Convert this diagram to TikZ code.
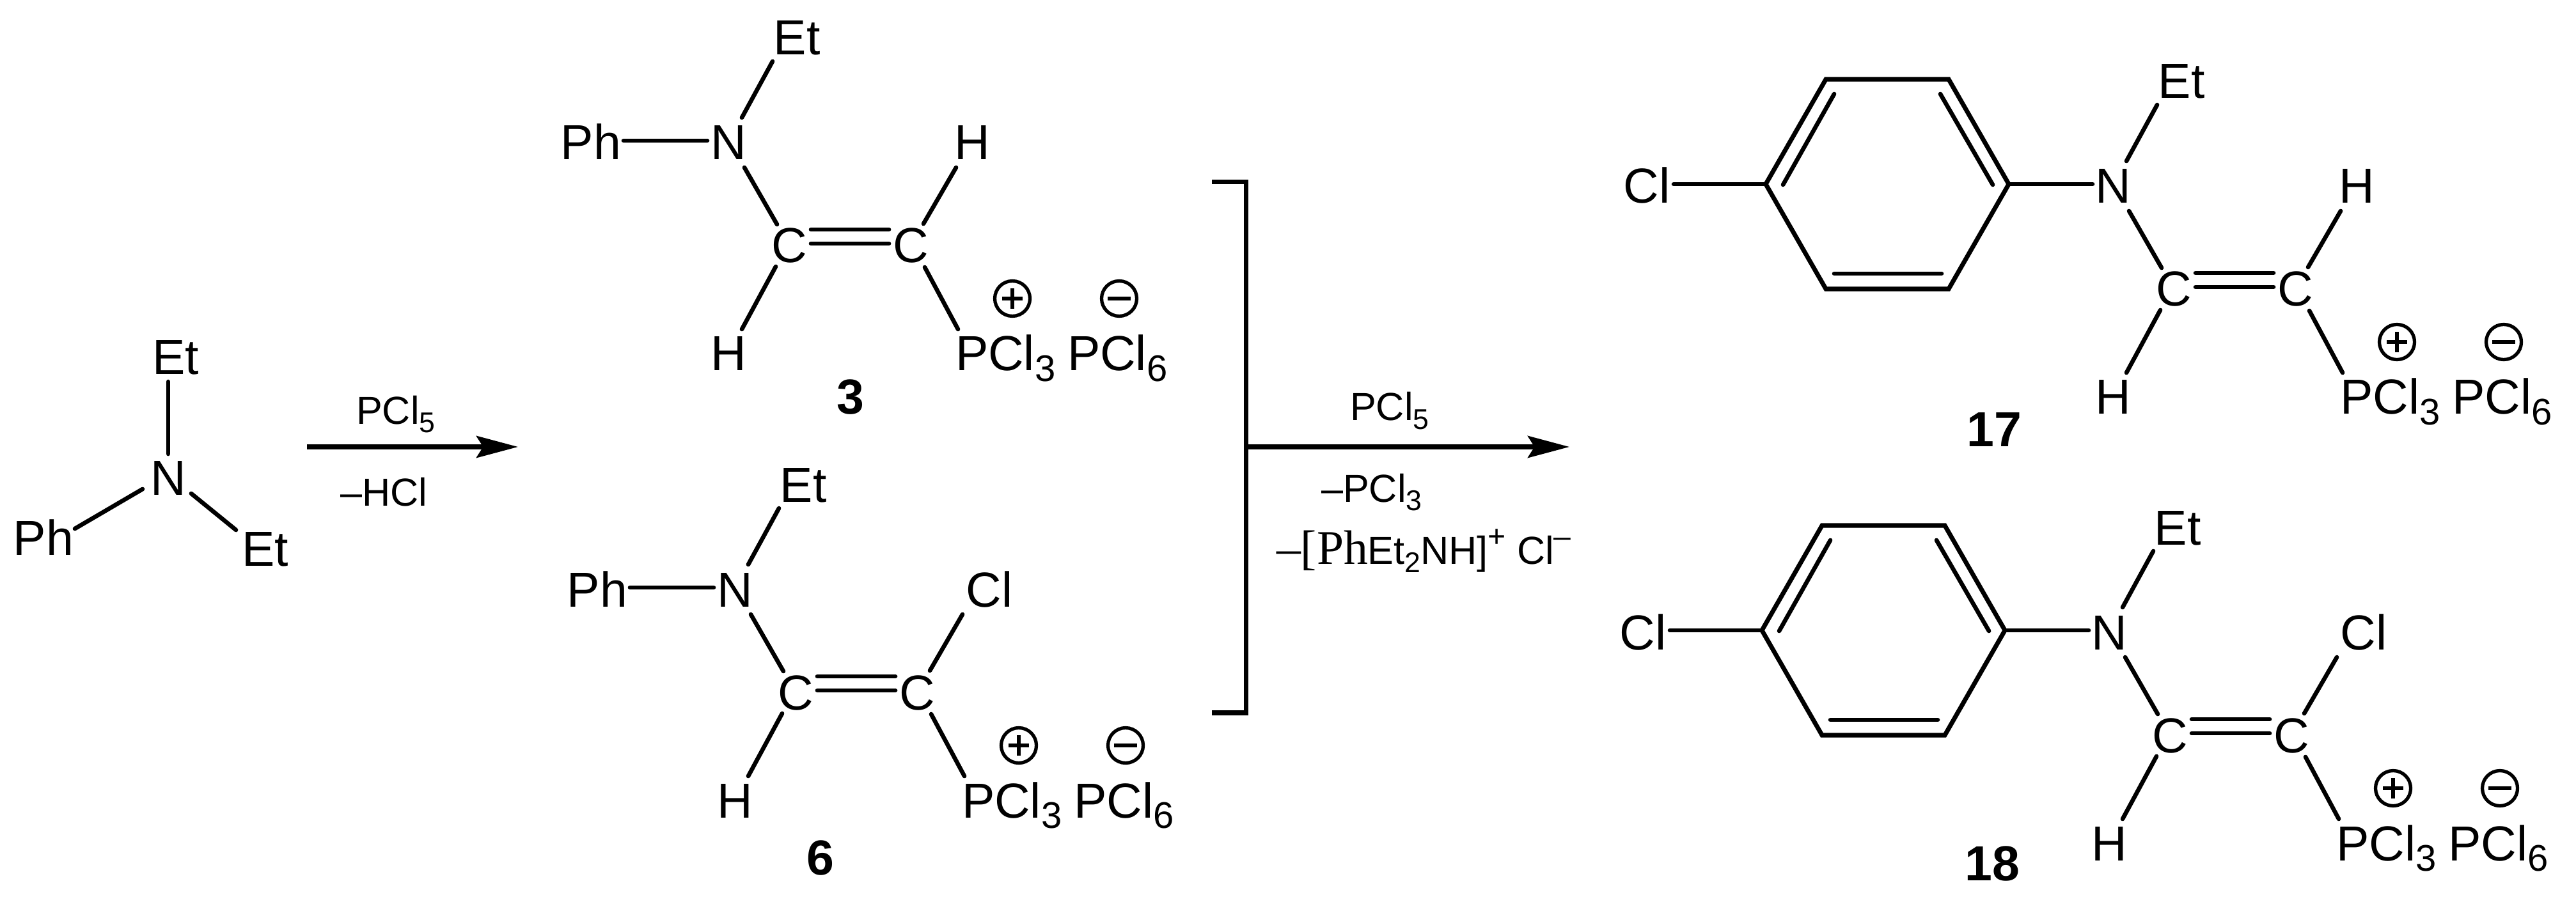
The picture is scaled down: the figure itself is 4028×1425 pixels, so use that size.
\documentclass[tikz,border=0pt]{standalone}
\usepackage{fontspec}
\setmainfont{Liberation Sans}
\newfontfamily\serifpart{Liberation Serif}
\usetikzlibrary{arrows.meta}
\newcommand\atomsub[1]{\raisebox{-4.8pt}{\fontsize{16.5}{18}\selectfont #1}}
\newcommand\reagsub[1]{\raisebox{-3.8pt}{\fontsize{12.7}{14}\selectfont #1}}
\newcommand\reagsup[1]{\raisebox{7.5pt}{\fontsize{13.7}{15}\selectfont #1}}
\tikzset{
  atom/.style={inner sep=0pt,outer sep=0pt,anchor=base,font=\fontsize{21.9}{26}\selectfont},
  ionlabel/.style={atom,anchor=base west},
  reagent/.style={inner sep=0pt,outer sep=0pt,anchor=base west,font=\fontsize{17.4}{21}\selectfont},
  compound/.style={inner sep=0pt,outer sep=0pt,anchor=base,font=\fontsize{21.9}{26}\selectfont\bfseries},
  bondline/.style={line width=1.9pt,line cap=round},
  ringline/.style={line width=2pt,line join=miter,line cap=butt},
  bracketline/.style={line width=2pt,line join=miter,line cap=butt},
  reactionarrow/.style={line width=2pt,line cap=butt,-{Stealth[length=18.5pt,width=9.7pt,inset=3pt]}},
  chargering/.style={circle,draw,line width=1.5pt,minimum size=0.55cm,inner sep=0pt,outer sep=0pt},
  pluscharge/.style={chargering,path picture={
    \draw[line width=1.7pt] ([xshift=-16*0.01cm]path picture bounding box.center) -- ([xshift=16*0.01cm]path picture bounding box.center);
    \draw[line width=1.7pt] ([yshift=-16*0.01cm]path picture bounding box.center) -- ([yshift=16*0.01cm]path picture bounding box.center);}},
  minuscharge/.style={chargering,path picture={
    \draw[line width=1.7pt] ([xshift=-18*0.01cm]path picture bounding box.center) -- ([xshift=18*0.01cm]path picture bounding box.center);}},
}
% #1 prefix, #2 dx, #3 dy, #4 x of substituent, #5 its text, #6 x offset of bond end from it
\newcommand\drawfrag[6]{%
  \begin{scope}[shift={(#2,#3)}]
    \node[atom] (#1Et) at (1246,86) {Et};
    \node[atom] (#1N) at (1139,250) {N};
    \node[atom] (#1Ca) at (1234,411) {C};
    \node[atom] (#1Cb) at (1424,411) {C};
    \node[atom] (#1X) at (#4,250) {#5};
    \node[atom] (#1H) at (1139,580) {H};
    \node[ionlabel] (#1P) at (1494,580) {PCl\atomsub{3}};
    \node[ionlabel] (#1Q) at (1669,580) {PCl\atomsub{6}};
    \node[pluscharge] (#1plus) at (1583,467) {};
    \node[minuscharge] (#1minus) at (1750,467) {};
  \end{scope}
  \draw[bondline] ([shift={(21,-66)}]#1N.base) -- ([shift={(-38,10)}]#1Et.base);
  \draw[bondline] ([shift={(25,12)}]#1N.base) -- ([shift={(-19,-60)}]#1Ca.base);
  \draw[bondline] ([shift={(34,-52)}]#1Ca.base) -- ([shift={(-34,-52)}]#1Cb.base);
  \draw[bondline] ([shift={(34,-30)}]#1Ca.base) -- ([shift={(-34,-30)}]#1Cb.base);
  \draw[bondline] ([shift={(20,-61)}]#1Cb.base) -- ([shift={(#6,12)}]#1X.base);
  \draw[bondline] ([shift={(-21,6)}]#1Ca.base) -- ([shift={(21,-65)}]#1H.base);
  \draw[bondline] ([shift={(22,7)}]#1Cb.base) -- ([shift={(4,-65)}]#1P.base west);
}
% #1 prefix, #2 dx, #3 dy : para-chlorophenyl ring, joined to atom #1N
\newcommand\drawring[3]{%
  \begin{scope}[shift={(#2,#3)}]
    \coordinate (#1r1) at (2761,288);
    \coordinate (#1r2) at (2855,124);
    \coordinate (#1r3) at (3047,124);
    \coordinate (#1r4) at (3141,288);
    \coordinate (#1r5) at (3047,452);
    \coordinate (#1r6) at (2855,452);
    \coordinate (#1i1) at (2788,289);
    \coordinate (#1i2) at (2868,147);
    \coordinate (#1i3) at (3034,147);
    \coordinate (#1i4) at (3116,289);
    \coordinate (#1i5) at (3036,428);
    \coordinate (#1i6) at (2868,428);
    \node[atom] (#1Clp) at (2575,318) {Cl};
  \end{scope}
  \draw[ringline] (#1r1) -- (#1r2) -- (#1r3) -- (#1r4) -- (#1r5) -- (#1r6) -- cycle;
  \draw[bondline] (#1i1) -- (#1i2);
  \draw[bondline] (#1i3) -- (#1i4);
  \draw[bondline] (#1i5) -- (#1i6);
  \draw[bondline] ([shift={(42,-30)}]#1Clp.base) -- (#1r1);
  \draw[bondline] (#1r4) -- ([shift={(-32,-30)}]#1N.base);
}
\begin{document}
\begin{tikzpicture}[x=0.01cm,y=-0.01cm]
\useasboundingbox (0,0) rectangle (4028,1425);

% starting amine
\node[atom] (sEta) at (275,586) {Et};
\node[atom] (sN) at (263,774) {N};
\node[atom] (sPh) at (68,868) {Ph};
\node[atom] (sEtb) at (415,885) {Et};
\draw[bondline] ([shift={(0,-64)}]sN.base) -- ([shift={(-12,11)}]sEta.base);
\draw[bondline] ([shift={(-40,-9)}]sN.base) -- ([shift={(49,-41)}]sPh.base);
\draw[bondline] ([shift={(36,-2)}]sN.base) -- ([shift={(-46,-56)}]sEtb.base);

% first arrow
\coordinate (aS) at (480,699);
\coordinate (aE) at (810,699);
\draw[reactionarrow] (aS) -- (aE);
\node[reagent] (aTop) at (557,663) {PCl\reagsub{5}};
\node[reagent] (aBot) at (532,791) {–HCl};

% intermediates
\drawfrag{m}{0}{0}{1520}{H}{-25}
\node[atom] (mPh) at (924,250) {Ph};
\draw[bondline] ([shift={(51,-30)}]mPh.base) -- ([shift={(-33,-30)}]mN.base);
\node[compound] (mnum) at (1330,648) {3};

\drawfrag{n}{10}{699}{1537}{Cl}{-42}
\node[atom] (nPh) at (934,949) {Ph};
\draw[bondline] ([shift={(51,-30)}]nPh.base) -- ([shift={(-33,-30)}]nN.base);
\node[compound] (nnum) at (1283,1368) {6};

% bracket
\coordinate (b1) at (1895,284.5);
\coordinate (b2) at (1948.5,284.5);
\coordinate (b3) at (1948.5,1115);
\coordinate (b4) at (1895,1115);
\draw[bracketline] (b1) -- (b2) -- (b3) -- (b4);

% second arrow
\coordinate (cS) at (1952,699);
\coordinate (cE) at (2454,699);
\draw[reactionarrow] (cS) -- (cE);
\node[reagent] (cTop) at (2111,658) {PCl\reagsub{5}};
\node[reagent] (cMid) at (2066,785) {–PCl\reagsub{3}};
\node[reagent] (cBot) at (1996,882) {{\serifpart\fontsize{21.5}{24}\selectfont –[Ph}Et\reagsub{2}NH]\reagsup{+} Cl\reagsup{–}};

% products
\drawfrag{p}{2165}{68}{1520}{H}{-25}
\drawring{p}{0}{0}
\node[compound] (pnum) at (3118,698) {17};

\drawfrag{q}{2159}{766}{1537}{Cl}{-42}
\drawring{q}{-6}{698}
\node[compound] (qnum) at (3115,1377) {18};
\end{tikzpicture}
\end{document}
